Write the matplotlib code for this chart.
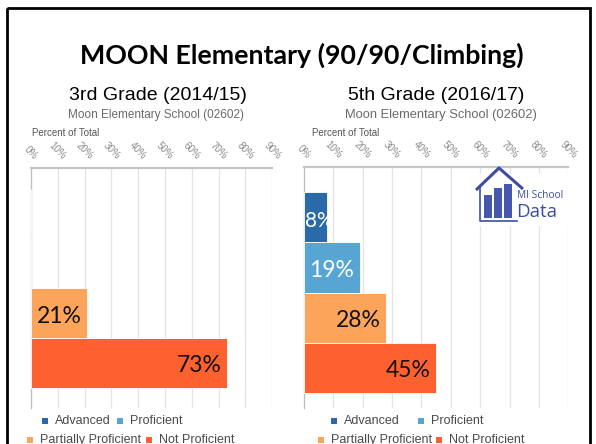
import matplotlib
matplotlib.use("Agg")
import matplotlib.pyplot as plt
from matplotlib.patches import Rectangle

# ---------------- data ----------------
categories = ["Advanced", "Proficient", "Partially Proficient", "Not Proficient"]
grade3_values = [0, 0, 21, 73]
grade5_values = [8, 19, 28, 45]
tick_values = [0, 10, 20, 30, 40, 50, 60, 70, 80, 90]
tick_labels = [f"{t}%" for t in tick_values]

main_title = "MOON Elementary (90/90/Climbing)"
panel_titles = ["3rd Grade (2014/15)", "5th Grade (2016/17)"]
school_name = "Moon Elementary School (02602)"
axis_title = "Percent of Total"

colors = ["#2a6aa8", "#56a5d3", "#fba45a", "#fd6130"]
label_colors = ["white", "white", "#111111", "#111111"]

W, H = 596, 444
fig = plt.figure(figsize=(W / 100, H / 100), dpi=100)
fig.patch.set_facecolor("white")


def px_axes(left, top, right, bottom, **kw):
    return fig.add_axes([left / W, (H - bottom) / H, (right - left) / W, (bottom - top) / H], **kw)


# overlay for slide decoration / texts (pixel coordinates)
ov = px_axes(0, 0, W, H, zorder=0)
ov.set_xlim(0, W)
ov.set_ylim(H, 0)
ov.axis("off")

LAB = "Liberation Sans"

# slide border
ov.add_patch(Rectangle((7, 8), 583, 460, fill=False, edgecolor="black", lw=2.0, clip_on=False))

ov.text(301.5, 55, main_title, ha="center", va="center", fontsize=19.3,
        fontweight="bold", family="Lato", color="black")

panels = [
    dict(vals=grade3_values, box=(31, 168, 272.3, 408), ylim=(3.90, -0.92),
         title_x=158, sub_x=156.5, sub_fs=8.5, pot_x=32,
         leg1=(42, 117), leg2=(27, 146)),
    dict(vals=grade5_values, box=(304, 167, 568.3, 408), ylim=(3.80, -1.0),
         title_x=436, sub_x=440.5, sub_fs=9.3, pot_x=312,
         leg1=(331, 418), leg2=(318, 436)),
]

for i, p in enumerate(panels):
    l, t, r, b = p["box"]
    ax = px_axes(l, t, r, b, zorder=2)
    ax.set_facecolor("none")
    ypos = list(range(len(categories)))
    ax.barh(ypos, p["vals"], height=1.0, color=colors, edgecolor="white",
            linewidth=0.6, zorder=3)
    ax.set_xlim(0, 90)
    ax.set_ylim(*p["ylim"])
    ax.set_xticks(tick_values)
    ax.set_xticklabels(tick_labels, rotation=-45, ha="center", va="bottom",
                       fontsize=7, family=LAB, color="#8a8a8a")
    ax.xaxis.tick_top()
    ax.tick_params(axis="x", length=0, pad=5)
    ax.set_yticks([])
    ax.grid(axis="x", color="#e4e4e4", lw=0.9, zorder=0)
    for s in ["right", "bottom"]:
        ax.spines[s].set_visible(False)
    ax.spines["top"].set_color("#c4c4c4")
    ax.spines["top"].set_linewidth(1.6)
    ax.spines["left"].set_color("#bdbdbd")
    ax.spines["left"].set_linewidth(0.9)

    for y, v, c in zip(ypos, p["vals"], label_colors):
        if v <= 0:
            continue
        if v < 10:
            ax.annotate(f"{v}%", (0, y), xytext=(0.5, -3), textcoords="offset points",
                        ha="left", va="center", fontsize=15, family="Lato",
                        color=c, zorder=4, annotation_clip=False)
        else:
            ax.annotate(f"{v}%", (v, y), xytext=(-4, -2), textcoords="offset points",
                        ha="right", va="center", fontsize=16.5, family="Lato",
                        color=c, zorder=4)

    # headings
    ov.text(p["title_x"], 95, panel_titles[i], ha="center", va="center",
            fontsize=14, family=LAB, color="black")
    ov.text(p["sub_x"], 115, school_name, ha="center", va="center",
            fontsize=p["sub_fs"], family=LAB, color="#6a6a6a")
    ov.text(p["pot_x"], 133, axis_title, ha="left", va="center",
            fontsize=7, family=LAB, color="#555555")

    # legend (two flowing rows)
    rows = [(p["leg1"], [0, 1], 421), (p["leg2"], [2, 3], 440)]
    for starts, idxs, yy in rows:
        for sx, k in zip(starts, idxs):
            ov.add_patch(Rectangle((sx, yy - 3.5), 6, 6, color=colors[k], lw=0))
            ov.text(sx + 13, yy, categories[k], ha="left", va="center",
                    fontsize=9, family=LAB, color="#4a4a4a")

# MI School Data logo
lg = px_axes(0, 0, W, H, zorder=5)
lg.set_xlim(0, W)
lg.set_ylim(H, 0)
lg.axis("off")
logo_c = "#3d4ea1"
lg.add_patch(Rectangle((471, 174), 97, 52, color="white", lw=0))
lg.plot([476, 499, 523], [190, 168, 189], color=logo_c, lw=2.2, solid_capstyle="butt")
lg.plot([480, 480, 517], [188, 221, 221], color=logo_c, lw=1.2)
for x0, top in [(484, 195), (494, 188), (504, 184)]:
    lg.add_patch(Rectangle((x0, top), 7.5, 218 - top, color="#4657b0", lw=0))
lg.text(517, 195, "MI School", ha="left", va="center", fontsize=7.3,
        family="Open Sans", color=logo_c)
lg.text(516, 212, "Data", ha="left", va="center", fontsize=13.5,
        family="Open Sans", color=logo_c)

fig.savefig("out.png", dpi=100)
